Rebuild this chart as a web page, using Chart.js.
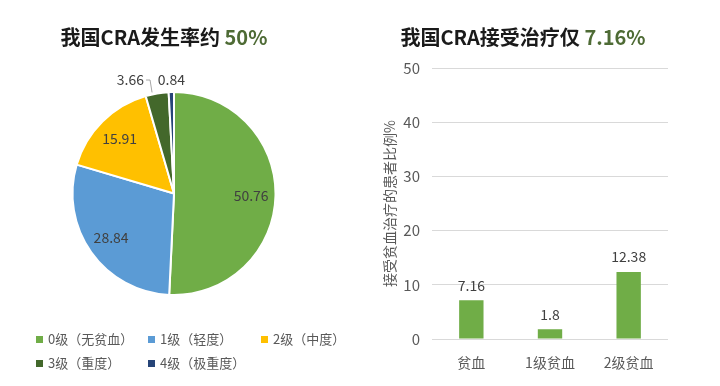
<!DOCTYPE html>
<html>
<head>
<meta charset="utf-8">
<script src="https://cdn.jsdelivr.net/npm/chart.js@4"></script>
<style>
body { margin: 0; background: #fff; font-family: "Noto Sans CJK SC", "Noto Sans", sans-serif; }
#wrap { position: relative; width: 720px; height: 386px; overflow: hidden; }
canvas { position: absolute; top: 0; }
.title { position: absolute; top: 24px; font-size: 20px; font-weight: bold; color: #1a1a1a; white-space: nowrap; line-height: 26px; text-align: center; }
.title span { color: #4e6b35; }
.item { position: absolute; white-space: nowrap; line-height: 18px; font-size: 13px; color: #595959; }
.item i { display: inline-block; width: 7px; height: 7px; margin-right: 5px; vertical-align: middle; position: relative; top: -1px; }
</style>
</head>
<body>
<div id="wrap">
  <canvas id="pie" width="360" height="386" style="left:0"></canvas>
  <canvas id="bar" width="360" height="386" style="left:360px"></canvas>
  <div class="title" style="left:0;width:328px">我国CRA发生率约 <span>50%</span></div>
  <div class="title" style="left:360px;width:326px">我国CRA接受治疗仅 <span>7.16%</span></div>
  <div id="legend"></div>
</div>
<script>
const pieLabels = ['0级（无贫血）', '1级（轻度）', '2级（中度）', '3级（重度）', '4级（极重度）'];
const pieValues = [50.76, 28.84, 15.91, 3.66, 0.84];
const pieColors = ['#70ad47', '#5b9bd5', '#ffc000', '#43682b', '#264478'];

const barLabels = ['贫血', '1级贫血', '2级贫血'];
const barValues = [7.16, 1.8, 12.38];
const yTicks = [0, 10, 20, 30, 40, 50];

const fontFamily = '"Noto Sans CJK SC", "Noto Sans", sans-serif';

// legend, Excel style: fixed columns
const legendCols = [36, 148, 261];
const legendRows = [339, 363];
const legend = document.getElementById('legend');
pieLabels.forEach(function (lab, i) {
    const d = document.createElement('div');
    d.className = 'item';
    d.style.left = legendCols[i % 3] + 'px';
    d.style.top = (legendRows[Math.floor(i / 3)] - 9) + 'px';
    d.innerHTML = '<i style="background:' + pieColors[i] + '"></i>' + lab;
    legend.appendChild(d);
});

// data labels on the pie
const pieLabelPlugin = {
    id: 'pieLabels',
    afterDatasetsDraw(chart) {
        const ctx = chart.ctx;
        const meta = chart.getDatasetMeta(0);
        let outside = 0;
        ctx.save();
        ctx.font = '14px ' + fontFamily;
        ctx.fillStyle = '#404040';
        ctx.textBaseline = 'middle';
        meta.data.forEach(function (arc, i) {
            const p = arc.getProps(['x', 'y', 'startAngle', 'endAngle', 'outerRadius'], true);
            const mid = (p.startAngle + p.endAngle) / 2;
            const v = pieValues[i];
            if (v > 10) {
                const r = p.outerRadius * 0.76;
                ctx.textAlign = 'center';
                ctx.fillText(v, p.x + Math.cos(mid) * r, p.y + Math.sin(mid) * r);
            } else {
                // small slices: label above the pie
                const ex = p.x + Math.cos(mid) * p.outerRadius;
                const ey = p.y + Math.sin(mid) * p.outerRadius;
                const ly = p.y - p.outerRadius - 12;
                if (outside === 0) {
                    ctx.textAlign = 'right';
                    ctx.fillText(v, ex - 13, ly);
                    ctx.strokeStyle = '#a6a6a6';
                    ctx.lineWidth = 1;
                    ctx.beginPath();
                    ctx.moveTo(ex - 11, ly);
                    ctx.lineTo(ex - 7, ly);
                    ctx.lineTo(ex - 5, ey - 1);
                    ctx.stroke();
                } else {
                    ctx.textAlign = 'center';
                    ctx.fillText(v, ex, ly);
                }
                outside++;
            }
        });
        ctx.restore();
    }
};

new Chart(document.getElementById('pie'), {
    type: 'pie',
    data: {
        labels: pieLabels,
        datasets: [{
            data: pieValues,
            backgroundColor: pieColors,
            borderColor: '#ffffff',
            borderWidth: 2
        }]
    },
    options: {
        responsive: false,
        animation: false,
        layout: { padding: { top: 91, bottom: 90, left: 71, right: 83 } },
        plugins: {
            legend: { display: false },
            tooltip: { enabled: false }
        }
    },
    plugins: [pieLabelPlugin]
});

// values above the bars
const barLabelPlugin = {
    id: 'barLabels',
    afterDatasetsDraw(chart) {
        const ctx = chart.ctx;
        const meta = chart.getDatasetMeta(0);
        ctx.save();
        ctx.font = '14px ' + fontFamily;
        ctx.fillStyle = '#404040';
        ctx.textAlign = 'center';
        ctx.textBaseline = 'middle';
        meta.data.forEach(function (bar, i) {
            ctx.fillText(barValues[i], bar.x, bar.y - 15);
        });
        ctx.restore();
    }
};

new Chart(document.getElementById('bar'), {
    type: 'bar',
    data: {
        labels: barLabels,
        datasets: [{
            data: barValues,
            backgroundColor: '#70ad47',
            barPercentage: 0.31,
            categoryPercentage: 1
        }]
    },
    options: {
        responsive: false,
        animation: false,
        layout: { padding: { top: 68, right: 52, left: 0, bottom: 0 } },
        plugins: {
            legend: { display: false },
            tooltip: { enabled: false }
        },
        scales: {
            x: {
                grid: { display: false },
                border: { display: false },
                ticks: { color: '#595959', font: { size: 14, family: fontFamily }, padding: 7 },
                afterFit(s) { s.height = 47; }
            },
            y: {
                min: 0,
                max: 50,
                afterBuildTicks(s) { s.ticks = yTicks.map(v => ({ value: v })); },
                grid: { color: '#d9d9d9', drawTicks: false },
                border: { display: false },
                ticks: { color: '#595959', font: { size: 15, family: fontFamily }, padding: 12 },
                title: {
                    display: true,
                    text: '接受贫血治疗的患者比例%',
                    color: '#595959',
                    font: { size: 14, family: fontFamily },
                    padding: { top: 21, bottom: 0 }
                },
                afterFit(s) { s.width = 72; }
            }
        }
    },
    plugins: [barLabelPlugin]
});
</script>
</body>
</html>
